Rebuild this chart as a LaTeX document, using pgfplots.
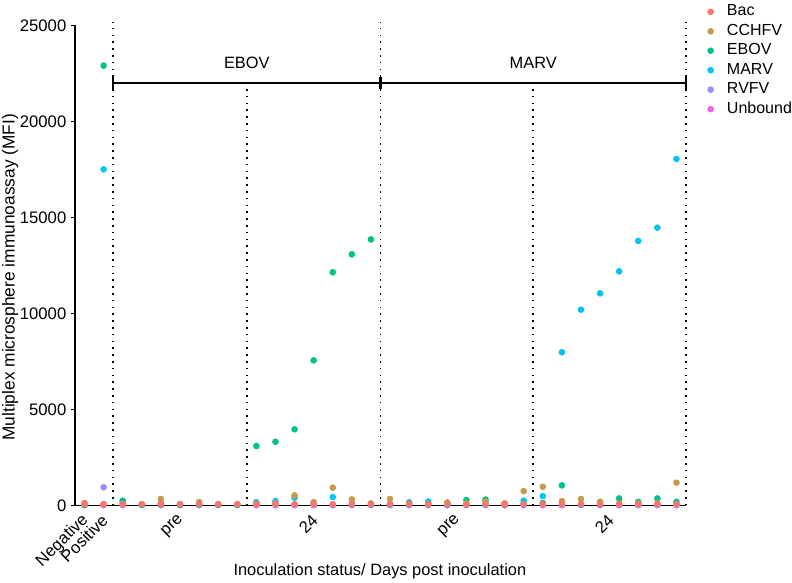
\documentclass[border=0pt]{standalone}
\usepackage{pgfplots}
\pgfplotsset{compat=1.18}
\usepackage{fontspec}
\setmainfont{Liberation Sans}

\definecolor{cBac}{HTML}{F8766D}
\definecolor{cCCHFV}{HTML}{C49A4C}
\definecolor{cEBOV}{HTML}{00C08B}
\definecolor{cMARV}{HTML}{00C5F2}
\definecolor{cRVFV}{HTML}{9590FF}
\definecolor{cUnbound}{HTML}{F564E3}

\tikzset{groupsep/.style={line width=1.15pt, dash pattern=on 1.15pt off 3.95pt}}
\pgfplotsset{dot/.style={only marks, mark=*, mark size=2.25pt, color=#1, mark options={fill=#1, draw=#1}}}

\begin{document}
\begin{tikzpicture}
\useasboundingbox (0,0) rectangle (594pt,436.5pt);
\begin{axis}[
  at={(56.25pt,57.5pt)}, anchor=south west,
  scale only axis, width=458.25pt, height=360pt,
  xmin=-0.5, xmax=31.5, ymin=0, ymax=25000,
  axis x line=bottom, axis y line=left,
  axis line style={-, line width=1.2pt},
  clip=false,
  ytick={0,5000,10000,15000,20000,25000},
  scaled y ticks=false,
  /pgf/number format/set thousands separator={},
  /pgf/number format/assume math mode=true,
  tick align=outside, major tick length=3pt,
  every tick/.style={line width=1.2pt, black},
  xtick={0,1,5,12,19.5,27.5},
  xticklabels={Negative,Positive,pre,24,pre,24},
  xtick style={draw=none},
  ticklabel style={font=\fontsize{12.5}{14}\selectfont},
  xticklabel style={xshift=1pt, yshift=-6pt, rotate=45, anchor=east, inner sep=0pt},
  xlabel={Inoculation status/ Days post inoculation},
  ylabel={Multiplex microsphere immunoassay (MFI)},
  every axis x label/.style={at={(axis description cs:0.499,-0.137)}, anchor=center,
    font=\fontsize{12.3}{14}\selectfont},
  every axis y label/.style={at={(axis description cs:-0.106,0.475)}, rotate=90, anchor=center,
    font=\fontsize{13}{15}\selectfont},
  reverse legend,
  legend image code/.code={\draw[mark repeat=2,mark phase=2,#1] plot coordinates {(0cm,0cm) (0.15cm,0cm) (0.3cm,0cm)};},
  legend style={draw=none, fill=none, inner sep=0pt,
    at={(axis description cs:1.035,1.049)}, anchor=north west,
    font=\fontsize{12}{14}\selectfont,
    nodes={text height=9pt, text depth=3pt, inner ysep=1.3pt},
    /tikz/every odd column/.append style={column sep=8pt}},
  legend cell align=left,
]
% samples: 0 negative, 1 positive, 2-8 EBOV pre, 9-15 EBOV 24,
% 16-23 MARV pre, 24-31 MARV 24
\addplot[dot=cUnbound] coordinates {
(0,10)(1,10)(2,10)(3,10)(4,10)(5,10)(6,10)(7,10)(8,10)(9,10)(10,10)(11,10)
(12,10)(13,10)(14,10)(15,10)(16,10)(17,10)(18,10)(19,10)(20,10)(21,10)
(22,10)(23,10)(24,10)(25,10)(26,10)(27,10)(28,10)(29,10)(30,10)(31,10)};
\addplot[dot=cRVFV] coordinates {
(0,20)(1,940)(2,20)(3,20)(4,20)(5,20)(6,20)(7,20)(8,20)(9,20)(10,20)(11,20)
(12,20)(13,20)(14,20)(15,20)(16,20)(17,20)(18,20)(19,20)(20,20)(21,20)
(22,20)(23,20)(24,20)(25,20)(26,20)(27,20)(28,20)(29,20)(30,20)(31,20)};
\addplot[dot=cMARV] coordinates {
(0,30)(1,17500)(2,200)(3,40)(4,100)(5,40)(6,50)(7,40)(8,40)(9,160)(10,220)
(11,400)(12,80)(13,430)(14,80)(15,60)(16,60)(17,60)(18,200)(19,60)(20,60)
(21,60)(22,60)(23,240)(24,480)(25,7970)(26,10190)(27,11040)(28,12190)
(29,13770)(30,14460)(31,18040)};
\addplot[dot=cEBOV] coordinates {
(0,40)(1,22900)(2,240)(3,30)(4,60)(5,40)(6,60)(7,40)(8,30)(9,3090)(10,3310)
(11,3960)(12,7550)(13,12140)(14,13070)(15,13850)(16,60)(17,150)(18,60)
(19,60)(20,280)(21,300)(22,60)(23,100)(24,120)(25,1040)(26,60)(27,60)
(28,360)(29,180)(30,360)(31,180)};
\addplot[dot=cCCHFV] coordinates {
(0,60)(1,60)(2,80)(3,60)(4,330)(5,60)(6,170)(7,60)(8,60)(9,80)(10,130)
(11,520)(12,170)(13,920)(14,310)(15,100)(16,330)(17,80)(18,80)(19,150)
(20,100)(21,200)(22,100)(23,740)(24,970)(25,220)(26,330)(27,190)(28,100)
(29,100)(30,100)(31,1180)};
\addplot[dot=cBac] coordinates {
(0,120)(1,60)(2,60)(3,60)(4,60)(5,60)(6,60)(7,60)(8,60)(9,60)(10,60)(11,60)
(12,60)(13,60)(14,60)(15,60)(16,60)(17,60)(18,60)(19,60)(20,60)(21,60)
(22,60)(23,60)(24,60)(25,60)(26,60)(27,60)(28,60)(29,60)(30,60)(31,60)};
\legend{Unbound,RVFV,MARV,EBOV,CCHFV,Bac}

% group separators
\draw[groupsep] (axis cs:1.5,0) -- (axis cs:1.5,25150);
\draw[groupsep] (axis cs:15.5,0) -- (axis cs:15.5,25150);
\draw[groupsep] (axis cs:31.5,0) -- (axis cs:31.5,25150);
\draw[groupsep] (axis cs:8.5,0) -- (axis cs:8.5,21700);
\draw[groupsep] (axis cs:23.5,0) -- (axis cs:23.5,21700);

% brackets
\draw[line width=1.6pt] (axis cs:1.5,22000) -- (axis cs:31.5,22000);
\draw[line width=1.6pt] (axis cs:1.5,21680) -- (axis cs:1.5,22320);
\draw[line width=1.6pt] (axis cs:15.5,21680) -- (axis cs:15.5,22320);
\draw[line width=1.6pt] (axis cs:31.5,21680) -- (axis cs:31.5,22320);
\node[font=\fontsize{12.3}{14}\selectfont] at (axis cs:8.5,23050) {EBOV};
\node[font=\fontsize{12.3}{14}\selectfont] at (axis cs:23.5,23050) {MARV};
\end{axis}
\end{tikzpicture}
\end{document}
